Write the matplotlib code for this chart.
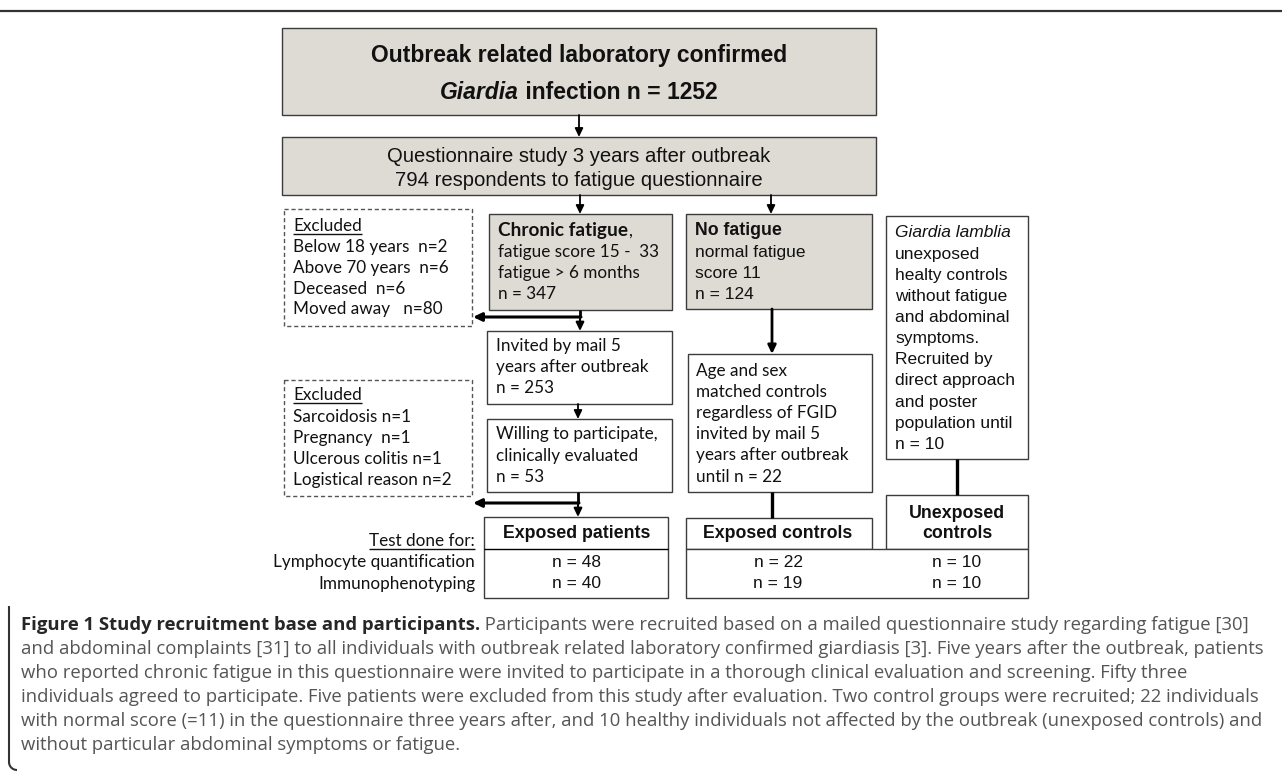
import matplotlib
matplotlib.use("Agg")
import matplotlib.pyplot as plt
from matplotlib.patches import Rectangle, FancyArrowPatch, PathPatch
from matplotlib.path import Path
import numpy as np

# ---------------- content ----------------
title_line1 = "Outbreak related laboratory confirmed"
title_genus = "Giardia"
title_rest = " infection n = 1252"
questionnaire = ["Questionnaire study 3 years after outbreak",
                 "794 respondents to fatigue questionnaire"]
excluded_first = ["Excluded", "Below 18 years  n=2", "Above 70 years  n=6",
                  "Deceased  n=6", "Moved away   n=80"]
chronic_head = "Chronic fatigue"
chronic_lines = ["fatigue score 15 -  33", "fatigue > 6 months", "n = 347"]
nofatigue_head = "No fatigue"
nofatigue_lines = ["normal fatigue", "score 11", "n = 124"]
invited_lines = ["Invited by mail 5", "years after outbreak", "n = 253"]
excluded_second = ["Excluded", "Sarcoidosis n=1", "Pregnancy  n=1",
                   "Ulcerous colitis n=1", "Logistical reason n=2"]
willing_lines = ["Willing to participate,", "clinically evaluated", "n = 53"]
matched_lines = ["Age and sex", "matched controls", "regardless of FGID",
                 "invited by mail 5", "years after outbreak", "until n = 22"]
unexposed_head = "Giardia lamblia"
unexposed_lines = ["unexposed", "healty controls", "without fatigue",
                   "and abdominal", "symptoms.", "Recruited by",
                   "direct approach", "and poster", "population until", "n = 10"]
test_labels = ["Test done for:", "Lymphocyte quantification", "Immunophenotyping"]
group_names = [["Exposed patients"], ["Exposed controls"], ["Unexposed", "controls"]]
n_lymphocyte = [48, 22, 10]
n_immuno = [40, 19, 10]
caption_bold = "Figure 1 Study recruitment base and participants."
caption_first_rest = (" Participants were recruited based on a mailed questionnaire "
                      "study regarding fatigue [30]")
caption_lines = [
    "and abdominal complaints [31] to all individuals with outbreak related laboratory "
    "confirmed giardiasis [3]. Five years after the outbreak, patients",
    "who reported chronic fatigue in this questionnaire were invited to participate in a "
    "thorough clinical evaluation and screening. Fifty three",
    "individuals agreed to participate. Five patients were excluded from this study after "
    "evaluation. Two control groups were recruited; 22 individuals",
    "with normal score (=11) in the questionnaire three years after, and 10 healthy "
    "individuals not affected by the outbreak (unexposed controls) and",
    "without particular abdominal symptoms or fatigue.",
]

# ---------------- styling ----------------
ARIAL = "Liberation Sans"
CAL = "Lato"
CAPF = "Open Sans"
GRAY = "#dddbd3"
EDGE = "#3c3c3c"
TXT = "#111111"
CAPTXT = "#555555"
CAPBOLD = "#262626"

fig = plt.figure(figsize=(12.82, 7.76), dpi=100)
ax = fig.add_axes([0, 0, 1, 1])
ax.set_xlim(0, 1282)
ax.set_ylim(776, 0)
ax.axis("off")
renderer = fig.canvas.get_renderer()
inv = ax.transData.inverted()


def width_px(s, size, family, weight="normal", style="normal"):
    t = ax.text(0, 0, s, fontsize=size, family=family, fontweight=weight, fontstyle=style)
    w = t.get_window_extent(renderer).width
    t.remove()
    return w


def fit(s, target, family, weight="normal", style="normal"):
    return 10.0 * target / width_px(s, 10.0, family, weight, style)


def txt(x, y, s, size, family, weight="normal", style="normal", ha="left", color=TXT):
    return ax.text(x, y, s, fontsize=size, family=family, fontweight=weight,
                   fontstyle=style, ha=ha, va="baseline", color=color)


def underline(t, y, lw=1.0, color=TXT):
    bb = t.get_window_extent(renderer)
    x0 = inv.transform((bb.x0, bb.y0))[0]
    x1 = inv.transform((bb.x1, bb.y0))[0]
    ax.plot([x0, x1], [y, y], color=color, lw=lw, solid_capstyle="butt")


def box(x0, y0, x1, y1, fill="white", dashed=False, lw=1.0):
    ls = (0, (3.0, 2.0)) if dashed else "-"
    ec = "#555555" if dashed else EDGE
    ax.add_patch(Rectangle((x0, y0), x1 - x0, y1 - y0, facecolor=fill,
                           edgecolor=ec, lw=lw, linestyle=ls, zorder=1))


ARROWSTYLE = "-|>,head_length=0.5,head_width=0.24"


def arrow(x0, y0, x1, y1, lw=1.3):
    ax.add_patch(FancyArrowPatch((x0, y0), (x1, y1), arrowstyle=ARROWSTYLE,
                                 mutation_scale=10, lw=lw, color="black",
                                 shrinkA=0, shrinkB=0, zorder=3))


def line(xs, ys, lw=2.0):
    ax.plot(xs, ys, color="black", lw=lw, solid_capstyle="butt", zorder=3)


# font sizes fitted to measured widths in the reference
s_title = fit(title_line1, 418, ARIAL, "bold")
s_q = fit(questionnaire[0], 384, ARIAL)
s_cal = fit("Lymphocyte quantification", 202, CAL)
s_cal_b = fit(chronic_head, 130, CAL, "bold")
s_ar = fit("normal fatigue", 111, ARIAL)
s_head = fit("Exposed controls", 149, ARIAL, "bold")
s_cap = fit(caption_lines[0], 1240, CAPF)

# ---------------- frame ----------------
ax.plot([0, 1282], [11, 11], color="#333333", lw=1.6, solid_capstyle="butt")
r = 8
th = np.linspace(np.pi, 1.5 * np.pi, 12)
verts = [(9, 606), (9, 770 - r)]
verts += [(9 + r + r * np.cos(a), 770 - r - r * np.sin(a)) for a in th][1:]
ax.add_patch(PathPatch(Path(verts), fill=False, edgecolor="#333333", lw=1.5))

# ---------------- top boxes ----------------
box(282, 28, 876, 115, GRAY)
txt(579, 62, title_line1, s_title, ARIAL, "bold", ha="center")
wg = width_px(title_genus, s_title, ARIAL, "bold", "italic")
wr = width_px(title_rest, s_title, ARIAL, "bold")
xs = 579 - (wg + wr) / 2
txt(xs, 99, title_genus, s_title, ARIAL, "bold", "italic")
txt(xs + wg, 99, title_rest, s_title, ARIAL, "bold")
arrow(579, 115, 579, 137)

box(282, 137, 876, 195, GRAY)
for i, s in enumerate(questionnaire):
    txt(579, 162 + 24 * i, s, s_q, ARIAL, ha="center")

arrow(580, 195, 580, 214)
arrow(771, 195, 771, 214)

# ---------------- left column ----------------
box(284, 209, 472, 326, dashed=True)
t = txt(293, 231, excluded_first[0], s_cal, CAL)
underline(t, 233.5)
for i, s in enumerate(excluded_first[1:]):
    txt(293, 252 + 20.8 * i, s, s_cal, CAL)

box(489, 214, 672, 310, GRAY)
t = txt(498, 236, chronic_head, s_cal_b, CAL, "bold")
wb = width_px(chronic_head, s_cal_b, CAL, "bold")
txt(498 + wb, 236, ",", s_cal, CAL)
for i, s in enumerate(chronic_lines):
    txt(498, 257 + 20.8 * i, s, s_cal, CAL)

line([580, 580], [310, 317], lw=2.0)
arrow(580, 316, 580, 331, lw=1.5)
ax.add_patch(FancyArrowPatch((581, 317), (473, 317), arrowstyle=ARROWSTYLE,
                             mutation_scale=10, lw=2.2, color="black",
                             shrinkA=0, shrinkB=0, zorder=3))

box(487, 331, 672, 404)
for i, s in enumerate(invited_lines):
    txt(496, 351 + 21 * i, s, s_cal, CAL)
arrow(578, 404, 578, 419)

box(284, 380, 472, 496, dashed=True)
t = txt(293, 400, excluded_second[0], s_cal, CAL)
underline(t, 402.5)
for i, s in enumerate(excluded_second[1:]):
    txt(293, 421.5 + 21 * i, s, s_cal, CAL)

box(487, 419, 672, 492)
for i, s in enumerate(willing_lines):
    txt(496, 439.5 + 21 * i, s, s_cal, CAL)

line([578, 578], [492, 503], lw=2.0)
arrow(578, 502, 578, 517, lw=1.5)
ax.add_patch(FancyArrowPatch((579, 503), (473, 503), arrowstyle=ARROWSTYLE,
                             mutation_scale=10, lw=2.2, color="black",
                             shrinkA=0, shrinkB=0, zorder=3))

# ---------------- middle column ----------------
box(686, 214, 872, 309, GRAY)
txt(695, 235, nofatigue_head, s_head, ARIAL, "bold")
for i, s in enumerate(nofatigue_lines):
    txt(695, 257 + 21 * i, s, s_ar, ARIAL)
arrow(772, 309, 772, 354, lw=2.0)

box(688, 354, 872, 492)
for i, s in enumerate(matched_lines):
    txt(696, 376 + 21.1 * i, s, s_cal, CAL)
line([772, 772], [492, 518], lw=2.4)

# ---------------- right column ----------------
box(886, 216, 1028, 459)
txt(895, 237, unexposed_head, s_ar, ARIAL, style="italic")
for i, s in enumerate(unexposed_lines):
    txt(895, 258.5 + 21.15 * i, s, s_ar, ARIAL)
line([957, 957], [459, 495], lw=2.4)

# ---------------- result table ----------------
box(484, 517, 668, 598)
line([484, 668], [549, 549], lw=1.0)
box(686, 518, 872, 549)
box(886, 495, 1028, 549)
box(686, 549, 1028, 598)

group_cx = [577, 778, 957]
txt(group_cx[0], 538, group_names[0][0], s_head, ARIAL, "bold", ha="center")
txt(group_cx[1], 538, group_names[1][0], s_head, ARIAL, "bold", ha="center")
txt(group_cx[2], 518, group_names[2][0], s_head, ARIAL, "bold", ha="center")
txt(group_cx[2], 538, group_names[2][1], s_head, ARIAL, "bold", ha="center")
for cx, a, b in zip(group_cx, n_lymphocyte, n_immuno):
    txt(cx, 567, f"n = {a}", s_ar, ARIAL, ha="center")
    txt(cx, 588.5, f"n = {b}", s_ar, ARIAL, ha="center")

t = txt(475, 546, test_labels[0], s_cal, CAL, ha="right")
underline(t, 548.5)
txt(475, 567, test_labels[1], s_cal, CAL, ha="right")
txt(475, 588.5, test_labels[2], s_cal, CAL, ha="right")

# ---------------- caption ----------------
cap_x = 21
cap_y0 = 630
cap_dy = 24.0
txt(cap_x, cap_y0, caption_bold, s_cap, CAPF, "bold", color=CAPBOLD)
wcb = width_px(caption_bold, s_cap, CAPF, "bold")
txt(cap_x + wcb, cap_y0, caption_first_rest, s_cap, CAPF, color=CAPTXT)
for i, s in enumerate(caption_lines):
    txt(cap_x, cap_y0 + cap_dy * (i + 1), s, s_cap, CAPF, color=CAPTXT)

fig.savefig("out.png", dpi=100, facecolor="white")
